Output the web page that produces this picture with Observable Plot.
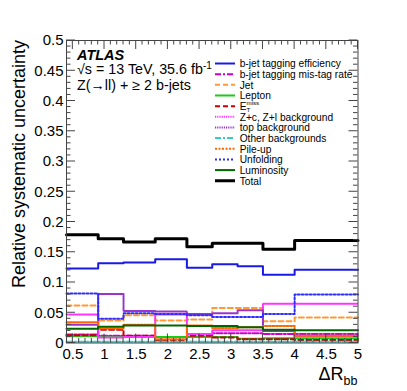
<!DOCTYPE html>
<html><head><meta charset="utf-8">
<script src="https://cdn.jsdelivr.net/npm/d3@7"></script>
<script src="https://cdn.jsdelivr.net/npm/@observablehq/plot@0.6"></script>
<style>
body{margin:0;background:#fff}
svg{font-family:"Liberation Sans",Arial,Helvetica,sans-serif}
</style>
</head><body><div id="chart"></div>
<script>
// ---- data ----
const binEdges = [0.4, 0.9, 1.3, 1.8, 2.3, 2.7, 3.1, 3.5, 4.0, 5.0];
const bTagEff   = [0.123, 0.132, 0.133, 0.1385, 0.1245, 0.130, 0.127, 0.113, 0.121];
const misTag    = [0.014, 0.012, 0.012, 0.010, 0.010, 0.016, 0.016, 0.015, 0.015];
const jet       = [0.062, 0.037, 0.046, 0.037, 0.039, 0.058, 0.058, 0.036, 0.042];
const lepton    = [0.011, 0.010, 0.011, 0.010, 0.010, 0.010, 0.007, 0.008, 0.008];
const etMiss    = [0.013, 0.022, 0.012, 0.005, 0.012, 0.009, 0.006, 0.006, 0.005];
const zclBkg    = [0.047, 0.009, 0.010, 0.047, 0.015, 0.021, 0.021, 0.065, 0.065];
const topBkg    = [0.030, 0.081, 0.053, 0.052, 0.048, 0.049, 0.054, 0.020, 0.012];
const otherBkg  = [0.002, 0.002, 0.002, 0.002, 0.002, 0.002, 0.002, 0.002, 0.002];
const pileUp    = [0.0345, 0.024, 0.030, 0.006, 0.029, 0.025, 0.026, 0.028, 0.012];
const unfolding = [0.082, 0.040, 0.049, 0.048, 0.046, 0.043, 0.043, 0.048, 0.080];
const lumi      = [0.0235, 0.027, 0.029, 0.029, 0.028, 0.028, 0.026, 0.022, 0.021];
const total     = [0.179, 0.1725, 0.167, 0.1725, 0.159, 0.165, 0.165, 0.155, 0.1695];

const xTicks = [0.5, 1, 1.5, 2, 2.5, 3, 3.5, 4, 4.5, 5];
const xTickLabels = ["0.5","1","1.5","2","2.5","3","3.5","4","4.5","5"];
const yTicks = [0, 0.05, 0.1, 0.15, 0.2, 0.25, 0.3, 0.35, 0.4, 0.45, 0.5];
const yTickLabels = ["0","0.05","0.1","0.15","0.2","0.25","0.3","0.35","0.4","0.45","0.5"];

const seriesNames = ["b-jet tagging efficiency","b-jet tagging mis-tag rate","Jet","Lepton","ETMISS",
  "Z+c, Z+l background","top background","Other backgrounds","Pile-up","Unfolding","Luminosity","Total"];
const seriesValues = [bTagEff, misTag, jet, lepton, etMiss, zclBkg, topBkg, otherBkg, pileUp, unfolding, lumi, total];

// ---- styles ----
const seriesStyle = [
  {color:"#1a1ae6", dash:null, w:2},
  {color:"#cc00cc", dash:"6,2,2,2", w:2},
  {color:"#ff9933", dash:"5,3", w:2},
  {color:"#19cc19", dash:null, w:2},
  {color:"#cc0000", dash:"5,3", w:2},
  {color:"#ff33ff", dash:"1.2,1", w:2},
  {color:"#9933cc", dash:"1.2,1", w:2},
  {color:"#33cccc", dash:"6,2,2,2", w:2},
  {color:"#ff6600", dash:"2,1.5", w:2},
  {color:"#2e2eff", dash:"2,2", w:2},
  {color:"#006600", dash:null, w:2},
  {color:"#000000", dash:null, w:3}
];

function stepRows(vals){
  const rows = [];
  vals.forEach((v,i)=>{ rows.push({x:binEdges[i], y:v}); rows.push({x:binEdges[i+1], y:v}); });
  return rows;
}

const W = 407, H = 391;
const marks = seriesValues.map((vals,k)=>Plot.line(stepRows(vals), {
  x:"x", y:"y", stroke: seriesStyle[k].color, strokeWidth: seriesStyle[k].w,
  strokeDasharray: seriesStyle[k].dash || undefined, curve:"linear"
}));

const plot = Plot.plot({
  width: W, height: H,
  marginLeft: 66, marginRight: 49.5, marginTop: 40, marginBottom: 48.5,
  style: {fontSize: "15px", fontFamily: "'Liberation Sans', Arial, sans-serif", color:"#000", background:"#fff"},
  x: {domain: [0.4, 5], ticks: xTicks, tickFormat: d => xTickLabels[xTicks.indexOf(d)], tickSize: 0, tickPadding: 5, label: null},
  y: {domain: [0, 0.5], ticks: yTicks, tickFormat: d => yTickLabels[yTicks.indexOf(d)], tickSize: 0, tickPadding: 3, label: null},
  marks: [
    ...marks,
    Plot.frame({stroke:"#444", strokeWidth:1})
  ]
});
document.getElementById("chart").appendChild(plot);

const svg = d3.select(plot);
const xs = plot.scale("x"), ys = plot.scale("y");
const X = v => xs.apply(v), Y = v => ys.apply(v);
const x0 = X(0.4), x1 = X(5), y0 = Y(0), y1 = Y(0.5);

// ROOT-style inward ticks on all four sides
const tg = svg.append("g").attr("stroke","#444").attr("stroke-width",1);
for (let i = 5; i <= 50; i++) {
  const v = i/10, major = (i % 5 === 0), L = major ? 9 : 4.5, px = X(v);
  tg.append("line").attr("x1",px).attr("x2",px).attr("y1",y0).attr("y2",y0-L);
  tg.append("line").attr("x1",px).attr("x2",px).attr("y1",y1).attr("y2",y1+L);
}
for (let i = 0; i <= 50; i++) {
  const v = i/100, major = (i % 5 === 0), L = major ? 9 : 4.5, py = Y(v);
  tg.append("line").attr("x1",x0).attr("x2",x0+L).attr("y1",py).attr("y2",py);
  tg.append("line").attr("x1",x1).attr("x2",x1-L).attr("y1",py).attr("y2",py);
}

const tx = svg.append("g").attr("text-anchor","start").attr("fill","#000");

// axis titles
tx.append("text").attr("transform",`translate(25,${y1}) rotate(-90)`)
  .attr("text-anchor","end").attr("font-size",18)
  .text("Relative systematic uncertainty");
const xt = tx.append("text").attr("x",x1).attr("y",380).attr("text-anchor","end")
  .attr("font-size",18);
xt.append("tspan").text("ΔR");
xt.append("tspan").attr("font-size",12.5).attr("dy",5).text("bb");

// ATLAS label
const ax = 77;
tx.append("text").attr("x",ax).attr("y",59.5).attr("font-size",14.5)
  .attr("font-weight","bold").attr("font-style","italic").text("ATLAS");
const l2 = tx.append("text").attr("x",ax).attr("y",74).attr("font-size",14.3);
l2.append("tspan").text("√s = 13 TeV, 35.6 fb");
l2.append("tspan").attr("font-size",10).attr("dy",-5).text("-1");
tx.append("text").attr("x",ax).attr("y",90).attr("font-size",14.3)
  .text("Z(→ll) + ≥ 2 b-jets");

// legend
const lg = svg.append("g").attr("text-anchor","start").attr("fill","#000");
const lx0 = 215, lx1 = 235, ltx = 239.7, ly0 = 63.5, ldy = 10.66;
seriesNames.forEach((name,k)=>{
  const yy = ly0 + k*ldy, st = seriesStyle[k];
  lg.append("line").attr("x1",lx0).attr("x2",lx1).attr("y1",yy).attr("y2",yy)
    .attr("stroke",st.color).attr("stroke-width",st.w).attr("stroke-dasharray",st.dash);
  if (name === "ETMISS") {
    lg.append("text").attr("x",ltx).attr("y",yy+3.8).attr("font-size",10.2).text("E");
    lg.append("text").attr("x",ltx+6.8).attr("y",yy+5.6).attr("font-size",6.2).text("T");
    lg.append("text").attr("x",ltx+6.8).attr("y",yy-1.6).attr("font-size",6.2).text("miss");
  } else {
    lg.append("text").attr("x",ltx).attr("y",yy+3.8).attr("font-size",10.2).text(name);
  }
});
</script>
</body></html>
